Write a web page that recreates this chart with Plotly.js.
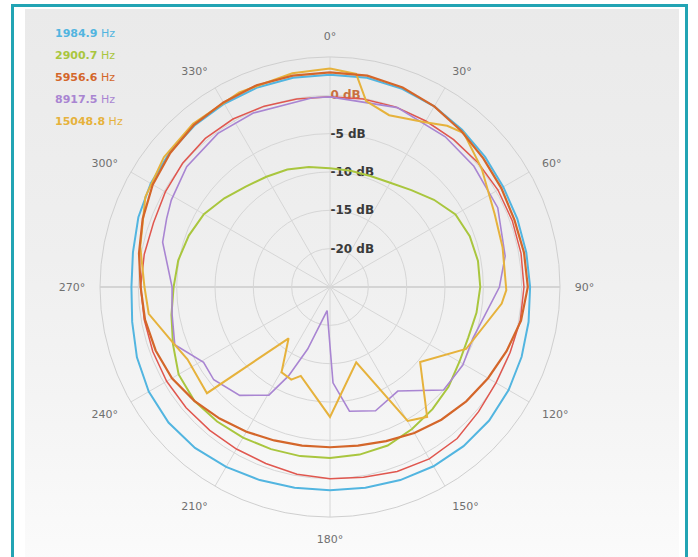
<!DOCTYPE html>
<html>
<head>
<meta charset="utf-8">
<script src="https://cdn.plot.ly/plotly-3.0.1.min.js"></script>
<style>
  html, body { margin: 0; padding: 0; background: #ffffff; width: 698px; height: 557px; overflow: hidden; }
  #frame { position: absolute; left: 11px; top: 4px; width: 677px; height: 560px;
           border: 3px solid #22a4b4; border-bottom: none; box-sizing: border-box; background: #ffffff; }
  #panel { position: absolute; left: 11px; top: 2px; right: 6px; bottom: 0;
           background: linear-gradient(#eaeaea 0%, #efefef 45%, #f6f6f6 80%, #fbfbfb 100%); }
  #chart { position: absolute; left: 0; top: 0; width: 698px; height: 557px; }
</style>
</head>
<body>
<div id="frame"><div id="panel"></div></div>
<div id="chart"></div>
<script>
// ---- data ----
const seriesNames = ['1984.9 Hz', '2900.7 Hz', '5956.6 Hz', '8917.5 Hz', '15048.8 Hz'];
const seriesColors = ['#52b5e0', '#a9c63e', '#d4662a', '#a985d2', '#e6b23c'];
const extraColor = '#e0574f';

const angleTicks = [0, 30, 60, 90, 120, 150, 180, 210, 240, 270, 300, 330];
const angleLabels = ['0°', '30°', '60°', '90°', '120°', '150°', '180°', '210°', '240°', '270°', '300°', '330°'];
const radialTicks = [-20, -15, -10, -5, 0];
const radialLabels = ['-20 dB', '-15 dB', '-10 dB', '-5 dB', '<span style="color:#c9713e">0 dB</span>'];

const angles10 = [0, 10, 20, 30, 40, 50, 60, 70, 80, 90, 100, 110, 120, 130, 140, 150, 160, 170, 180,
                  190, 200, 210, 220, 230, 240, 250, 260, 270, 280, 290, 300, 310, 320, 330, 340, 350, 360];

const db1984 = [2.7, 2.7, 2.5, 2.2, 1.8, 1.4, 1.1, 1.0, 1.0, 1.1, 1.3, 1.6, 1.9, 2.1, 2.1, 2.0, 1.8, 1.6, 1.5,
                1.6, 1.8, 2.1, 2.4, 2.5, 2.3, 1.8, 1.2, 0.9, 1.1, 1.6, 2.0, 2.3, 2.5, 2.6, 2.7, 2.7, 2.7];

const db2900 = [-9.5, -9.6, -9.6, -9.3, -8.5, -7.3, -6.1, -5.6, -5.4, -5.4, -5.6, -5.8, -5.5, -4.8, -4.2, -3.6, -3.0, -2.8, -2.7,
                -2.6, -2.5, -2.3, -2.1, -1.9, -2.2, -3.2, -4.0, -4.6, -4.9, -5.4, -6.0, -7.0, -7.9, -8.4, -8.7, -9.1, -9.5];

const db5956 = [3.0, 3.0, 2.7, 2.2, 1.6, 1.1, 0.8, 0.6, 0.7, 0.8, 0.3, -0.5, -1.2, -1.8, -2.4, -3.0, -3.6, -4.0, -4.1,
                -4.0, -3.7, -3.2, -2.6, -1.9, -1.2, -0.8, -0.5, -0.3, 0.3, 1.0, 1.7, 2.2, 2.6, 2.8, 3.0, 3.0, 3.0];

const dbExtra = [-0.2, -0.1, 0.0, 0.0, 0.1, 0.2, 0.3, 0.3, 0.3, 0.3, 0.2, 0.0, 0.0, 0.3, 0.8, 0.9, 0.6, 0.2, 0.0,
                 -0.2, -0.5, -0.6, -0.6, -0.5, -0.4, -0.4, -0.4, -0.3, -0.4, -0.5, -0.2, 0.1, 0.3, 0.3, 0.1, -0.1, -0.2];

const angles8917 = [0, 20.6, 37.5, 50, 64.7, 80, 90, 109.9, 120.5, 132.2, 146.9, 159.8, 171.1, 178.2, 187, 199.8, 205,
                    209.5, 219.8, 231.4, 239.2, 249.6, 260.3, 270, 285, 292.7, 298.7, 310, 323.9, 336.2, 354.7, 360];
const db8917 = [-0.2, 0.0, -0.3, -0.5, -0.8, -1.8, -2.9, -5.2, -4.9, -5.0, -8.8, -7.8, -8.6, -12.5, -21.9, -16.4, -12.2,
                -8.8, -6.6, -5.6, -5.8, -3.4, -4.1, -4.4, -2.4, -1.9, -1.4, -0.6, -0.2, -0.2, -0.2, -0.2];

const angles15048 = [0, 7, 11, 19, 30, 36, 41, 52, 66, 77, 91, 95.5, 114.5, 129.8, 143.2, 149.9, 160.8, 180, 198.2,
                     202.7, 209.6, 218.9, 229.2, 243.1, 250.9, 261.6, 270, 282, 296, 308, 320, 335, 350, 360];
const db15048 = [3.5, 3.0, -0.3, -1.3, -0.2, 1.0, 1.6, 0.1, -1.5, -1.9, -2.0, -2.5, -5.5, -9.7, -3.85, -4.8, -14.6, -8.05, -12.8,
                 -11.9, -12.2, -16.4, -3.8, -4.15, -3.2, -1.1, -0.8, 0.3, 1.8, 2.5, 2.8, 3.0, 3.3, 3.5];

// ---- traces ----
function line(theta, r, color, width, name) {
  return { type: 'scatterpolar', mode: 'lines', theta: theta, r: r, name: name,
           line: { color: color, width: width, shape: 'linear' }, showlegend: false, hoverinfo: 'skip' };
}
const traces = [
  line(angles10, db1984, seriesColors[0], 2, seriesNames[0]),
  line(angles10, db2900, seriesColors[1], 2, seriesNames[1]),
  line(angles10, dbExtra, extraColor, 1.5, ''),
  line(angles8917, db8917, seriesColors[3], 1.6, seriesNames[3]),
  line(angles15048, db15048, seriesColors[4], 2, seriesNames[4]),
  line(angles10, db5956, seriesColors[2], 2.2, seriesNames[2])
];

// legend as coloured text lines
const legendAnnotations = seriesNames.map((name, i) => {
  const parts = name.split(' ');
  return {
    xref: 'paper', yref: 'paper', x: 53 / 698, y: 1 - (33 + i * 22) / 557,
    xanchor: 'left', yanchor: 'middle', showarrow: false,
    text: '<b>' + parts[0] + '</b> ' + parts[1],
    font: { family: 'DejaVu Sans, sans-serif', size: 11, color: seriesColors[i] }
  };
});

const cx = 330, cy = 287, R = 230, W = 698, H = 557;
const layout = {
  width: W, height: H,
  margin: { l: 0, r: 0, t: 0, b: 0 },
  paper_bgcolor: 'rgba(0,0,0,0)',
  plot_bgcolor: 'rgba(0,0,0,0)',
  showlegend: false,
  annotations: legendAnnotations,
  // darker 90°–270° diameter, as in the reference
  shapes: [{ type: 'line', xref: 'paper', yref: 'paper', layer: 'below',
             x0: (cx - R) / W, x1: (cx + R) / W, y0: (H - cy) / H, y1: (H - cy) / H,
             line: { color: '#b4b4b4', width: 1 } }],
  polar: {
    domain: { x: [(cx - R) / W, (cx + R) / W], y: [(H - cy - R) / H, (H - cy + R) / H] },
    bgcolor: 'rgba(0,0,0,0)',
    angularaxis: {
      rotation: 90, direction: 'clockwise',
      tickmode: 'array', tickvals: angleTicks, ticktext: angleLabels,
      ticks: 'outside', ticklen: 12, tickcolor: 'rgba(0,0,0,0)',
      tickfont: { family: 'DejaVu Sans, sans-serif', size: 11, color: '#707070' },
      showline: true, linecolor: '#cfcfcf', linewidth: 1,
      gridcolor: '#d6d6d6', gridwidth: 1
    },
    radialaxis: {
      range: [-25, 5], angle: 90, side: 'clockwise', tickangle: 90,
      tickmode: 'array', tickvals: radialTicks, ticktext: radialLabels,
      ticks: '', showline: false, layer: 'below traces',
      tickfont: { family: 'DejaVu Sans, sans-serif', size: 12, color: '#3a3a3a', weight: 'bold' },
      gridcolor: '#d6d6d6', gridwidth: 1
    }
  }
};

Plotly.newPlot('chart', traces, layout, { displayModeBar: false, staticPlot: true });
</script>
</body>
</html>
